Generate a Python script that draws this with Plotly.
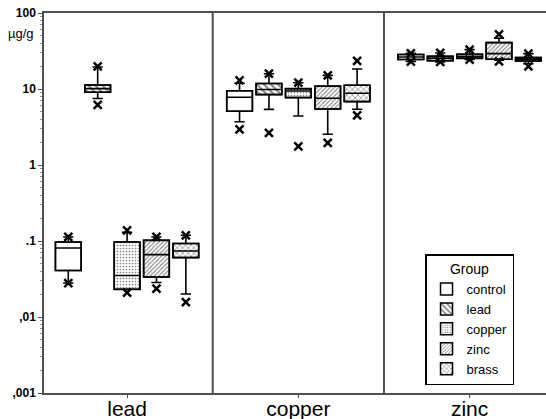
import plotly.graph_objects as go

# ---- data ----
categories = ["lead", "copper", "zinc"]
groups = ["control", "lead", "copper", "zinc", "brass"]

q1 = {
    "control": [0.041, 5.1, 24.4],
    "lead": [9.05, 8.44, 23.6],
    "copper": [0.0231, 7.71, 25.3],
    "zinc": [0.0336, 5.45, 24.6],
    "brass": [0.0605, 6.83, 23.4],
}
median = {
    "control": [0.081, 7.8, 26.4],
    "lead": [10.1, 9.83, 25.4],
    "copper": [0.0351, 9.41, 26.9],
    "zinc": [0.0662, 7.55, 29.2],
    "brass": [0.0738, 8.78, 24.6],
}
q3 = {
    "control": [0.097, 9.5, 28.4],
    "lead": [11.3, 11.8, 26.9],
    "copper": [0.097, 10.1, 28.6],
    "zinc": [0.102, 10.9, 40.8],
    "brass": [0.0925, 11.2, 25.9],
}
lower_whisker = {
    "control": [0.028, 3.7, 23.0],
    "lead": [7.5, 5.4, 22.7],
    "copper": [0.0231, 4.41, 24.4],
    "zinc": [0.0284, 2.54, 24.0],
    "brass": [0.0201, 5.41, 21.5],
}
upper_whisker = {
    "control": [0.113, 11.9, 29.5],
    "lead": [19.5, 15.9, 29.8],
    "copper": [0.13, 12.1, 33.0],
    "zinc": [0.113, 15.1, 46.5],
    "brass": [0.119, 18.3, 29.2],
}
minimum = {
    "control": [0.028, 2.95, 23.0],
    "lead": [6.2, 2.64, 22.7],
    "copper": [0.021, 1.76, 24.4],
    "zinc": [0.0237, 1.95, 23.1],
    "brass": [0.0157, 4.51, 19.9],
}
maximum = {
    "control": [0.113, 13.0, 29.5],
    "lead": [19.9, 15.9, 29.8],
    "copper": [0.138, 12.1, 33.0],
    "zinc": [0.113, 15.1, 52.4],
    "brass": [0.119, 23.4, 29.2],
}

y_tickvals = [0.001, 0.01, 0.1, 1, 10, 100]
y_ticktext = [",001", ",01", ".1", "1", "10", "100"]

# ---- styles ----
patterns = {
    "control": dict(shape=""),
    "lead": dict(shape="\\", size=5, solidity=0.4, fgcolor="black", bgcolor="white"),
    "copper": dict(shape=".", size=3, solidity=0.25, fgcolor="black", bgcolor="white"),
    "zinc": dict(shape="/", size=3, solidity=0.35, fgcolor="black", bgcolor="white"),
    "brass": dict(shape="x", size=4, solidity=0.3, fgcolor="black", bgcolor="white"),
}

FONT = "Liberation Sans, Arial, sans-serif"
GAP = 0.142
GROUPGAP = 0.126

fig = go.Figure()

# patterned boxes (bars from q1 to q3)
for g in groups:
    fig.add_trace(go.Bar(
        x=categories,
        y=[b - a for a, b in zip(q1[g], q3[g])],
        base=q1[g],
        name=g,
        offsetgroup=g,
        marker=dict(color="white", pattern=patterns[g],
                    line=dict(color="black", width=1.5)),
        showlegend=True,
        hoverinfo="skip",
    ))

# box outlines, medians, whiskers
for g in groups:
    fig.add_trace(go.Box(
        x=categories,
        q1=q1[g], median=median[g], q3=q3[g],
        lowerfence=lower_whisker[g], upperfence=upper_whisker[g],
        name=g,
        offsetgroup=g,
        fillcolor="rgba(0,0,0,0)",
        line=dict(color="black", width=1.6),
        whiskerwidth=0.4,
        boxpoints=False,
        showlegend=False,
        hoverinfo="skip",
    ))

# min / max markers
for g in groups:
    fig.add_trace(go.Scatter(
        x=categories + categories,
        y=minimum[g] + maximum[g],
        mode="markers",
        offsetgroup=g,
        marker=dict(symbol="x-thin", size=8, color="black",
                    line=dict(color="black", width=2.5)),
        showlegend=False,
        hoverinfo="skip",
    ))

# divider lines between categories
for i in range(len(categories) - 1):
    fig.add_shape(type="line", xref="x", yref="paper",
                  x0=i + 0.5, x1=i + 0.5, y0=0, y1=1,
                  line=dict(color="#505050", width=2))

fig.add_annotation(text="µg/g", xref="paper", yref="paper",
                   x=-0.016, y=0.947, xanchor="right", yanchor="middle",
                   showarrow=False, font=dict(family=FONT, size=13, color="black"))

fig.update_layout(
    width=546, height=419,
    margin=dict(l=44, r=0, t=13, b=26),
    paper_bgcolor="white", plot_bgcolor="white",
    font=dict(family=FONT, color="black"),
    barmode="group", bargap=GAP, bargroupgap=GROUPGAP,
    boxmode="group", boxgap=GAP, boxgroupgap=GROUPGAP,
    scattermode="group", scattergap=GAP,
    legend=dict(
        title=dict(text="Group", side="top center", font=dict(size=14)),
        x=0.759, xanchor="left", y=0.02, yanchor="bottom",
        bgcolor="white", bordercolor="black", borderwidth=1.5,
        font=dict(family=FONT, size=13, color="black"),
        traceorder="normal", tracegroupgap=0,
        entrywidth=85, entrywidthmode="pixels",
    ),
    xaxis=dict(
        type="category", range=[-0.485, 2.446], automargin=False,
        showline=True, linecolor="#505050", linewidth=1.5, mirror=True,
        ticks="outside", ticklen=3, tickcolor="#505050",
        tickfont=dict(family=FONT, size=21, color="black"),
        ticklabelstandoff=-7,
        showgrid=False, zeroline=False,
    ),
    yaxis=dict(
        type="log", range=[-3, 2], automargin=False,
        tickvals=y_tickvals, ticktext=y_ticktext,
        showline=True, linecolor="#505050", linewidth=1.5,
        ticks="outside", ticklen=4, tickcolor="#505050",
        tickfont=dict(family=FONT, size=12, color="black", weight="bold"),
        minor=dict(ticks="outside", ticklen=2, tickcolor="#909090", dtick="D1"),
        showgrid=False, zeroline=False,
    ),
)

fig.write_html("out.html", config={"displayModeBar": False},
               post_script="document.body.style.margin='0';")
